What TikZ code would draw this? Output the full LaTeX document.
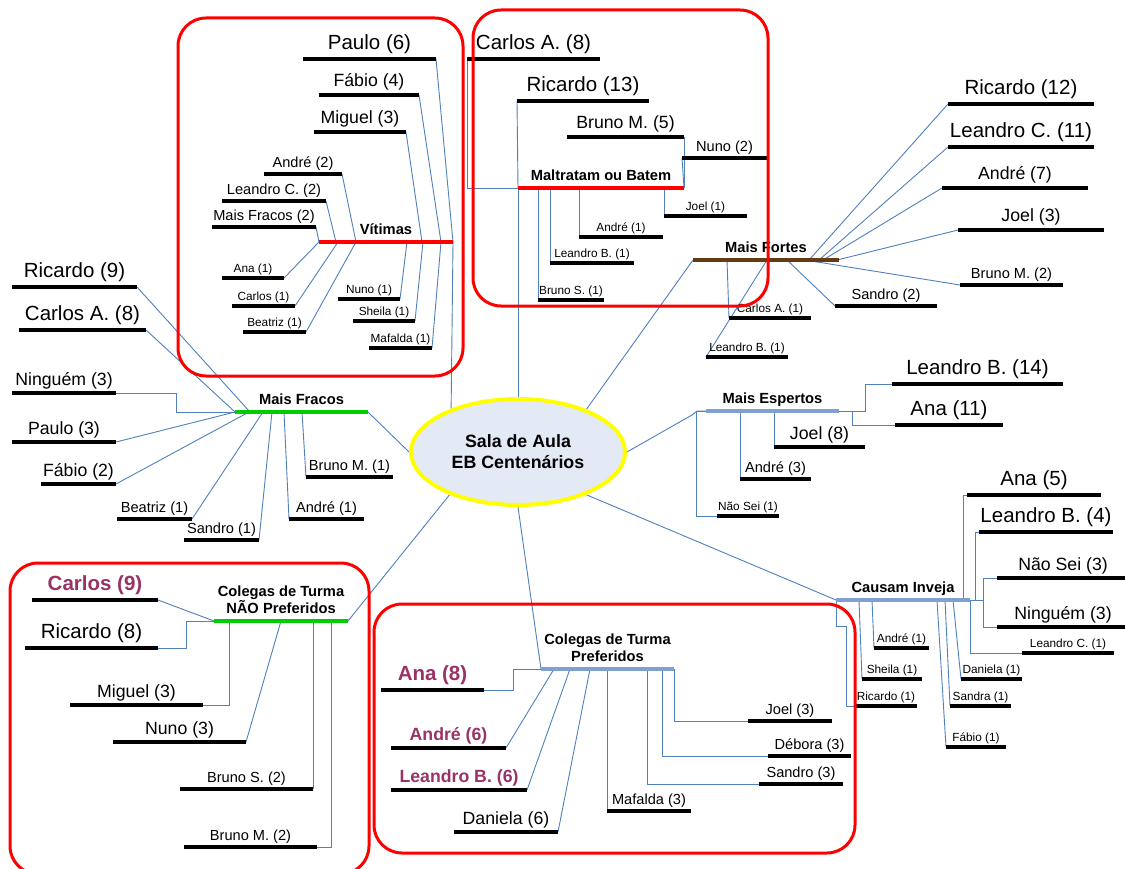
\documentclass[tikz,border=0pt]{standalone}
\usepackage{fontspec}
\setmainfont{Liberation Sans}
\usetikzlibrary{shapes.geometric,backgrounds}

\definecolor{linkblue}{RGB}{79,129,189}
\definecolor{steelbar}{RGB}{128,160,210}
\definecolor{grassbar}{RGB}{0,204,0}
\definecolor{brownbar}{RGB}{99,60,20}
\definecolor{framered}{RGB}{255,0,0}
\definecolor{hubyellow}{RGB}{255,255,0}
\definecolor{hubfill}{RGB}{228,234,245}
\definecolor{favpurple}{RGB}{153,51,102}

\tikzset{
  bar/.style={rectangle, fill=black, draw=none, minimum height=4pt, inner sep=0pt, outer sep=0pt},
  catbar/.style={rectangle, fill=#1, draw=none, minimum height=4.5pt, inner sep=0pt, outer sep=0pt},
  tA/.style={font=\fontsize{20.5}{24}\selectfont, anchor=base, yshift=9.5pt, inner sep=0pt},
  tB/.style={font=\fontsize{17.7}{21}\selectfont, anchor=base, yshift=8pt, inner sep=0pt},
  tC/.style={font=\fontsize{14.6}{17}\selectfont, anchor=base, yshift=6.8pt, inner sep=0pt},
  tD/.style={font=\fontsize{11.8}{14}\selectfont, anchor=base, yshift=5.8pt, inner sep=0pt},
  tAfav/.style={font=\fontsize{20.5}{24}\selectfont\bfseries, text=favpurple, anchor=base, yshift=9.5pt, inner sep=0pt},
  tBfav/.style={font=\fontsize{17.7}{21}\selectfont\bfseries, text=favpurple, anchor=base, yshift=8pt, inner sep=0pt},
  cat/.style={font=\fontsize{14.7}{17}\selectfont\bfseries, anchor=base, yshift=7.5pt, inner sep=0pt},
  cattwo/.style={font=\fontsize{14.7}{17}\selectfont\bfseries, anchor=south, yshift=6.7pt, inner sep=0pt, align=center},
  conn/.style={draw=linkblue, line width=0.9pt},
  framebox/.style={draw=framered, line width=3pt, rounded corners=28pt},
  hub/.style={ellipse, draw=hubyellow, line width=4pt, fill=hubfill, minimum width=214pt,
    minimum height=106pt, inner sep=0pt, align=center, font=\fontsize{17.8}{21}\selectfont\bfseries},
}

% a name written over a black bar: node name, text style, left x, right x, bar y, text
\newcommand{\twig}[6]{%
  \node[bar, minimum width={(#4-#3)*1pt}] (#1) at ({(#3+#4)/2},#5) {};
  \node[#2] (#1-t) at ({(#3+#4)/2},#5) {#6};}
% a coloured category bar with its title: name, colour, left x, right x, bar y, title style, title
\newcommand{\branch}[7]{%
  \node[catbar=#2, minimum width={(#4-#3)*1pt}] (#1) at ({(#3+#4)/2},#5) {};
  \node[#6] (#1-t) at ({(#3+#4)/2},#5) {#7};}

\begin{document}
\begin{tikzpicture}[x=1pt, y=-1pt]
\path[use as bounding box, clip] (0,0) rectangle (1125,869);

% central topic
\node[hub] (hub) at (518,452) {Sala de Aula\\EB Centenários};

% ---- Vítimas
\branch{vit}{framered}{319}{453}{242}{cat}{Vítimas}
\twig{vPaulo}{tA}{303}{436}{59}{Paulo (6)}
\twig{vFabio}{tB}{319}{419}{95}{Fábio (4)}
\twig{vMiguel}{tB}{314}{406}{132}{Miguel (3)}
\twig{vAndre}{tC}{264}{342}{174}{André (2)}
\twig{vLeandroC}{tC}{222}{326}{201}{Leandro C. (2)}
\twig{vMaisFracos}{tC}{212}{316}{227}{Mais Fracos (2)}
\twig{vAna}{tD}{222}{284}{278}{Ana (1)}
\twig{vCarlos}{tD}{232}{295}{306}{Carlos (1)}
\twig{vBeatriz}{tD}{243}{306}{332}{Beatriz (1)}
\twig{vNuno}{tD}{338}{400}{299}{Nuno (1)}
\twig{vSheila}{tD}{353}{415}{321}{Sheila (1)}
\twig{vMafalda}{tD}{369}{432}{348}{Mafalda (1)}

% ---- Maltratam ou Batem
\branch{malt}{framered}{518}{684}{188}{cat}{Maltratam ou Batem}
\twig{mCarlosA}{tA}{467}{600}{59}{Carlos A. (8)}
\twig{mRicardo}{tA}{517}{649}{101}{Ricardo (13)}
\twig{mBrunoM}{tB}{567}{684}{137}{Bruno M. (5)}
\twig{mNuno}{tC}{682}{767}{158}{Nuno (2)}
\twig{mJoel}{tD}{664}{747}{216}{Joel (1)}
\twig{mAndre}{tD}{579}{663}{237}{André (1)}
\twig{mLeandroB}{tD}{550}{634}{263}{Leandro B. (1)}
\twig{mBrunoS}{tD}{538}{604}{300}{Bruno S. (1)}

% ---- Mais Fortes
\branch{fortes}{brownbar}{693}{839}{260}{cat}{Mais Fortes}
\twig{fRicardo}{tA}{948}{1094}{104}{Ricardo (12)}
\twig{fLeandroC}{tA}{948}{1094}{147}{Leandro C. (11)}
\twig{fAndre}{tB}{942}{1088}{188}{André (7)}
\twig{fJoel}{tB}{958}{1104}{230}{Joel (3)}
\twig{fBrunoM}{tC}{960}{1063}{285}{Bruno M. (2)}
\twig{fSandro}{tC}{835}{937}{306}{Sandro (2)}
\twig{fCarlosA}{tD}{729}{811}{318}{Carlos A. (1)}
\twig{fLeandroB}{tD}{706}{788}{357}{Leandro B. (1)}

% ---- Mais Fracos
\branch{fracos}{grassbar}{235}{368}{412}{cat}{Mais Fracos}
\twig{rRicardo}{tA}{12}{137}{287}{Ricardo (9)}
\twig{rCarlosA}{tA}{19}{146}{330}{Carlos A. (8)}
\twig{rNinguem}{tB}{12}{116}{393}{Ninguém (3)}
\twig{rPaulo}{tB}{12}{116}{442}{Paulo (3)}
\twig{rFabio}{tB}{41}{116}{484}{Fábio (2)}
\twig{rBeatriz}{tC}{117}{192}{519}{Beatriz (1)}
\twig{rSandro}{tC}{184}{259}{540}{Sandro (1)}
\twig{rAndre}{tC}{289}{364}{519}{André (1)}
\twig{rBrunoM}{tC}{306}{393}{477}{Bruno M. (1)}

% ---- Mais Espertos
\branch{esp}{steelbar}{706}{839}{411}{cat}{Mais Espertos}
\twig{eLeandroB}{tA}{892}{1063}{384}{Leandro B. (14)}
\twig{eAna}{tA}{895}{1003}{425}{Ana (11)}
\twig{eJoel}{tB}{774}{865}{447}{Joel (8)}
\twig{eAndre}{tC}{740}{811}{479}{André (3)}
\twig{eNaoSei}{tD}{717}{779}{516}{Não Sei (1)}

% ---- Causam Inveja
\branch{inveja}{steelbar}{836}{970}{600}{cat}{Causam Inveja}
\twig{cAna}{tA}{967}{1101}{495}{Ana (5)}
\twig{cLeandroB}{tA}{979}{1113}{532}{Leandro B. (4)}
\twig{cNaoSei}{tB}{997}{1129}{578}{Não Sei (3)}
\twig{cNinguem}{tB}{997}{1129}{627}{Ninguém (3)}
\twig{cLeandroC}{tD}{1022}{1114}{653}{Leandro C. (1)}
\twig{cAndre}{tD}{874}{929}{648}{André (1)}
\twig{cSheila}{tD}{862}{922}{679}{Sheila (1)}
\twig{cRicardo}{tD}{855}{917}{706}{Ricardo (1)}
\twig{cDaniela}{tD}{961}{1022}{679}{Daniela (1)}
\twig{cSandra}{tD}{950}{1011}{706}{Sandra (1)}
\twig{cFabio}{tD}{946}{1006}{747}{Fábio (1)}

% ---- Colegas de Turma NÃO Preferidos
\branch{naopref}{grassbar}{214}{348}{621}{cattwo}{Colegas de Turma\\NÃO Preferidos}
\twig{nCarlos}{tAfav}{32}{158}{600}{Carlos (9)}
\twig{nRicardo}{tA}{25}{158}{648}{Ricardo (8)}
\twig{nMiguel}{tB}{70}{203}{705}{Miguel (3)}
\twig{nNuno}{tB}{113}{246}{742}{Nuno (3)}
\twig{nBrunoS}{tC}{180}{313}{789}{Bruno S. (2)}
\twig{nBrunoM}{tC}{184}{317}{847}{Bruno M. (2)}

% ---- Colegas de Turma Preferidos
\branch{pref}{steelbar}{541}{674}{669}{cattwo}{Colegas de Turma\\Preferidos}
\twig{pAna}{tAfav}{381}{484}{690}{Ana (8)}
\twig{pAndre}{tBfav}{391}{506}{748}{André (6)}
\twig{pLeandroB}{tBfav}{391}{527}{790}{Leandro B. (6)}
\twig{pDaniela}{tB}{454}{558}{832}{Daniela (6)}
\twig{pMafalda}{tC}{607}{691}{811}{Mafalda (3)}
\twig{pJoel}{tC}{748}{832}{721}{Joel (3)}
\twig{pDebora}{tC}{768}{851}{756}{Débora (3)}
\twig{pSandro}{tC}{759}{843}{784}{Sandro (3)}

% ---- connectors, kept behind the bars
\begin{pgfonlayer}{background}
\fill[white] (0,0) rectangle (1125,869);
% Vítimas
\draw[conn] (vPaulo.east) -- (vit.east);
\draw[conn] (vit.east) -- (hub.147);
\draw[conn] (vFabio.east) -- (441,0 |- vit);
\draw[conn] (vMiguel.east) -- (422,0 |- vit);
\draw[conn] (vAndre.east) -- (356,0 |- vit);
\draw[conn] (vLeandroC.east) -- (336,0 |- vit);
\draw[conn] (vMaisFracos.east) -- (vit.west);
\draw[conn] (vAna.east) -- (vit.west);
\draw[conn] (vCarlos.east) -- (338,0 |- vit);
\draw[conn] (vBeatriz.east) -- (356,0 |- vit);
\draw[conn] (vNuno.east) -- (407,0 |- vit);
\draw[conn] (vSheila.east) -- (423,0 |- vit);
\draw[conn] (vMafalda.east) -- (441,0 |- vit);
% Maltratam ou Batem
\draw[conn] (mCarlosA.west) |- (malt.west);
\draw[conn] (mRicardo.west) -- (malt.west);
\draw[conn] (mBrunoM.east) -- (malt.east);
\draw[conn] (mNuno.west) -- (malt.east);
\draw[conn] (mJoel.west) -- (mJoel.west |- malt);
\draw[conn] (mAndre.west) -- (mAndre.west |- malt);
\draw[conn] (mLeandroB.west) -- (mLeandroB.west |- malt);
\draw[conn] (mBrunoS.west) -- (mBrunoS.west |- malt);
\draw[conn] (malt.west) -- (malt.west |- hub.north);
% Mais Fortes
\draw[conn] (fRicardo.west) -- (809,0 |- fortes);
\draw[conn] (fLeandroC.west) -- (819,0 |- fortes);
\draw[conn] (fAndre.west) -- (823,0 |- fortes);
\draw[conn] (fJoel.west) -- (837,0 |- fortes);
\draw[conn] (fBrunoM.west) -- (805,0 |- fortes);
\draw[conn] (fSandro.west) -- (787,0 |- fortes);
\draw[conn] (fCarlosA.west) -- (727,0 |- fortes);
\draw[conn] (fLeandroB.west) -- (767,0 |- fortes);
\draw[conn] (fortes.west) -- (hub.32);
% Mais Fracos
\draw[conn] (rRicardo.east) -- (250,0 |- fracos);
\draw[conn] (rCarlosA.east) -- (fracos.west);
\draw[conn] (rNinguem.east) -| (176,0 |- fracos) -- (fracos.west);
\draw[conn] (rPaulo.east) -- (fracos.west);
\draw[conn] (rFabio.east) -- (249,0 |- fracos);
\draw[conn] (rBeatriz.east) -- (263,0 |- fracos);
\draw[conn] (rSandro.east) -- (272,0 |- fracos);
\draw[conn] (rAndre.west) -- (284,0 |- fracos);
\draw[conn] (rBrunoM.west) -- (302,0 |- fracos);
\draw[conn] (fracos.east) -- (hub.west);
% Mais Espertos
\draw[conn] (hub.east) -- ([xshift=-14pt,yshift=-4pt]esp.west) -- ([xshift=-9pt]esp.west) -- (esp.west);
\draw[conn] (esp.east) -| (865,0 |- eLeandroB) -- (eLeandroB.west);
\draw[conn] (852,0 |- esp) |- (eAna.west);
\draw[conn] (eJoel.west) -- (eJoel.west |- esp);
\draw[conn] (eAndre.west) -- (eAndre.west |- esp);
\draw[conn] (eNaoSei.west) -| (696,0 |- esp) -- (esp.west);
% Causam Inveja
\draw[conn] (cAna.west) -| (963,0 |- inveja);
\draw[conn] (cLeandroB.west) -| (975,0 |- inveja);
\draw[conn] (inveja.east) -- (983,0 |- inveja);
\draw[conn] (cNaoSei.west) -| (983,0 |- cNinguem) -- (cNinguem.west);
\draw[conn] (cLeandroC.west) -| (inveja.east);
\draw[conn] (cAndre.west) -- (872,0 |- inveja);
\draw[conn] (cSheila.west) -- (859,0 |- inveja);
\draw[conn] (cRicardo.west) -| (846,626) -| (inveja.west);
\draw[conn] (cDaniela.west) -- (953,0 |- inveja);
\draw[conn] (cSandra.west) -- (945,0 |- inveja);
\draw[conn] (cFabio.west) -- (937,0 |- inveja);
\draw[conn] (hub.328) -- (inveja.west);
% Colegas de Turma NÃO Preferidos
\draw[conn] (nCarlos.east) -- (naopref.west);
\draw[conn] (nRicardo.east) -| (186,0 |- naopref) -- (naopref.west);
\draw[conn] (nMiguel.east) -| (229,0 |- naopref);
\draw[conn] (nNuno.east) -- (281,0 |- naopref);
\draw[conn] (nBrunoS.east) -- (nBrunoS.east |- naopref);
\draw[conn] (nBrunoM.east) -| (331,0 |- naopref);
\draw[conn] (naopref.east) -- (hub.212);
% Colegas de Turma Preferidos
\draw[conn] (pAna.east) -| (513,0 |- pref) -- (pref.west);
\draw[conn] (pAndre.east) -- (554,0 |- pref);
\draw[conn] (pLeandroB.east) -- (570,0 |- pref);
\draw[conn] (pDaniela.east) -- (590,0 |- pref);
\draw[conn] (pMafalda.west) -- (pMafalda.west |- pref);
\draw[conn] (pSandro.west) -| (647,0 |- pref);
\draw[conn] (pDebora.west) -| (662,0 |- pref);
\draw[conn] (pJoel.west) -| (pref.east);
\draw[conn] (hub.south) -- (pref.west);
\end{pgfonlayer}

% red frames around the highlighted groups
\draw[framebox] (178,18) rectangle (463,376);
\draw[framebox] (473,10) rectangle (768,306);
\draw[framebox] (10,563) rectangle (369,874);
\draw[framebox] (374,604) rectangle (855,853);
\end{tikzpicture}
\end{document}
